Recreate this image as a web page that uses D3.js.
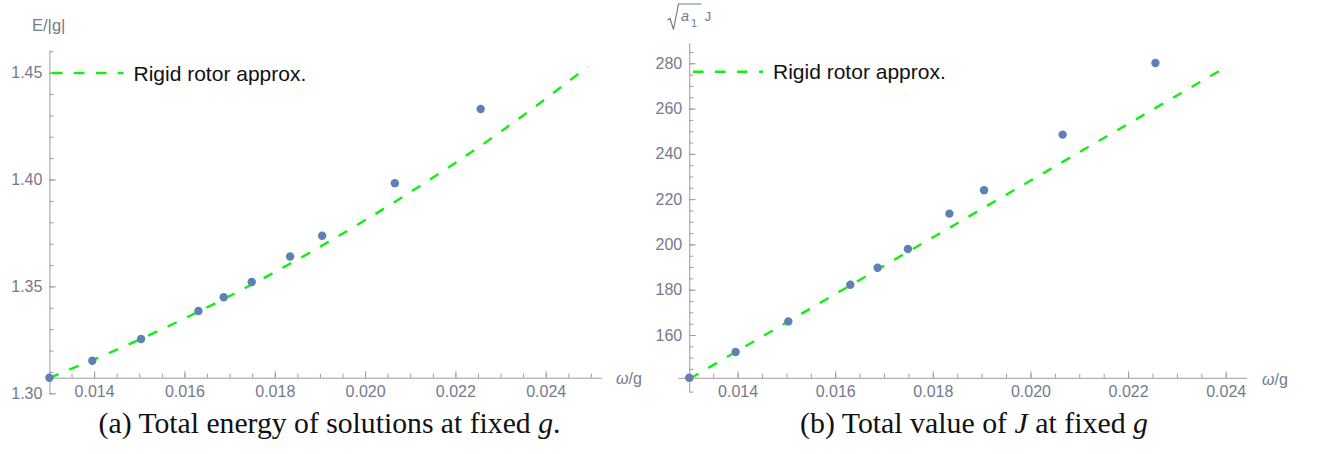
<!DOCTYPE html>
<html><head><meta charset="utf-8">
<script src="https://cdn.jsdelivr.net/npm/d3@7"></script>
<style>body{margin:0;background:#fff} svg{display:block}</style>
</head><body><svg id="c" width="1322" height="454"></svg>
<script>
// ---- data ----
const omega   = [0.01301, 0.01396, 0.01504, 0.01631, 0.01687, 0.01749, 0.01834, 0.01905, 0.02066, 0.02256];
const energy  = [1.3073, 1.3152, 1.3254, 1.3385, 1.3449, 1.3521, 1.3640, 1.3737, 1.3983, 1.4330];
const jValue  = [141.1, 152.5, 166.0, 182.2, 189.7, 198.0, 213.6, 223.9, 248.5, 280.1];
const rotorOmegaA = [0.01301, 0.0150, 0.0170, 0.0190, 0.0210, 0.0230, 0.02493];
const rotorEnergy = [1.3072, 1.3251, 1.3455, 1.3685, 1.3941, 1.4223, 1.4528];
const rotorOmegaB = [0.01302, 0.02405];
const rotorJ      = [140.7, 278.9];
const xTickLabels  = [0.014, 0.016, 0.018, 0.020, 0.022, 0.024];
const yTickLabelsA = [1.30, 1.35, 1.40, 1.45];
const yTickLabelsB = [160, 180, 200, 220, 240, 260, 280];
const legendLabel = "Rigid rotor approx.";
const captionA = ["(a) Total energy of solutions at fixed ", "g", "."];
const captionB = ["(b) Total value of ", "J", " at fixed ", "g"];

const svg = d3.select("#c");
svg.append("rect").attr("width",1322).attr("height",454).attr("fill","#fff");

const AXIS = "#9c9c9c", LABEL = "#737b8b", DOT = "#5E81B5", GREEN = "#12ee12";
const SANS = "'Liberation Sans', Arial, sans-serif";

function range(a, b, step){ const out=[]; for(let v=a; v<=b+step*1e-6; v+=step) out.push(+v.toFixed(6)); return out; }

function panel(o){
  const g = svg.append("g");
  const x = d3.scaleLinear().domain(o.xDomain).range(o.xRange);
  const y = d3.scaleLinear().domain(o.yDomain).range(o.yRange);
  const xCross = d3.min(omega), yCross = d3.min(o.yVals);

  function style(sel){
    sel.selectAll(".domain").attr("stroke", AXIS).attr("stroke-width",1);
    sel.selectAll(".tick line").attr("stroke", AXIS);
    sel.selectAll("text").attr("fill", LABEL).attr("font-family", SANS).attr("font-size", 16);
  }
  // x axis
  const gxm = g.append("g").attr("transform",`translate(0,${y(yCross)})`)
    .call(d3.axisBottom(x).tickValues(o.xMinor).tickFormat("").tickSizeInner(-4).tickSizeOuter(0));
  gxm.select(".domain").remove(); style(gxm);
  const gx = g.append("g").attr("transform",`translate(0,${y(yCross)})`)
    .call(d3.axisBottom(x).tickValues(xTickLabels).tickFormat(d3.format(".3f")).tickSizeInner(-6.5).tickSizeOuter(0).tickPadding(8));
  style(gx);
  // y axis
  const gym = g.append("g").attr("transform",`translate(${x(xCross)},0)`)
    .call(d3.axisLeft(y).tickValues(o.yMinor).tickFormat("").tickSizeInner(-4).tickSizeOuter(0));
  gym.select(".domain").remove(); style(gym);
  const gy = g.append("g").attr("transform",`translate(${x(xCross)},0)`)
    .call(d3.axisLeft(y).tickValues(o.yTicks).tickFormat(o.yFormat).tickSizeInner(-6.5).tickSizeOuter(0).tickPadding(7));
  style(gy);

  // x axis label
  const xl = g.append("text").attr("x", o.xLabelPos[0]).attr("y", o.xLabelPos[1])
    .attr("font-family", SANS).attr("font-size", 16).attr("fill", LABEL);
  xl.append("tspan").attr("font-style","italic").text("ω");
  xl.append("tspan").text("/g");

  // rigid rotor line
  const line = d3.line().x(d=>x(d[0])).y(d=>y(d[1])).curve(d3.curveMonotoneX);
  g.append("path").datum(d3.zip(o.lineX, o.lineY)).attr("d", line)
    .attr("fill","none").attr("stroke", GREEN).attr("stroke-width", 2.4).attr("stroke-dasharray","10,11.5");

  // points
  g.selectAll("circle.pt").data(d3.zip(omega, o.yVals)).join("circle").attr("class","pt")
    .attr("cx", d=>x(d[0])).attr("cy", d=>y(d[1])).attr("r", 4.2).attr("fill", DOT);

  // legend
  const [lx0, lx1, ly] = o.legend;
  g.append("line").attr("x1", lx0).attr("x2", lx1).attr("y1", ly).attr("y2", ly)
    .attr("stroke", GREEN).attr("stroke-width", 2.4).attr("stroke-dasharray","10.5,11.5");
  g.append("text").attr("x", lx1 + 10).attr("y", ly + 7.5).attr("font-family", SANS)
    .attr("font-size", 21).attr("fill", "#111").text(legendLabel);

  // caption
  const cap = g.append("text").attr("x", o.caption[0]).attr("y", o.caption[1]).attr("text-anchor","middle")
    .attr("font-family", "'Liberation Serif', 'Times New Roman', serif").attr("font-size", 24).attr("fill","#111");
  o.captionParts.forEach((t,i) => cap.append("tspan").attr("font-style", t.length===1 && /[gJ]/.test(t) ? "italic" : null).text(t));
  const w = cap.node().getComputedTextLength();
  cap.attr("font-size", 24 * o.caption[2] / w);
  return g;
}

// panel (a)
const ga = panel({
  xDomain:[0.01295, 0.02524], xRange:[46.7, 601.7],
  yDomain:[1.30, 1.4606], yRange:[393.3, 50],
  yVals: energy, lineX: rotorOmegaA, lineY: rotorEnergy,
  xMinor: range(0.0130, 0.0250, 0.0005), yMinor: range(1.30, 1.46, 0.01),
  yTicks: yTickLabelsA, yFormat: d3.format(".2f"),
  xLabelPos:[616, 384], legend:[52, 123.5, 73],
  caption:[329.5, 433, 462], captionParts: captionA
});
ga.append("text").attr("x", 32).attr("y", 31).attr("font-family", SANS).attr("font-size", 16.5)
  .attr("fill", LABEL).text("E/|g|");

// panel (b)
const gb = panel({
  xDomain:[0.01278, 0.02443], xRange:[678, 1246.7],
  yDomain:[135, 289], yRange:[391.6, 42.9],
  yVals: jValue, lineX: rotorOmegaB, lineY: rotorJ,
  xMinor: range(0.0130, 0.0240, 0.0005), yMinor: range(135, 285, 5),
  yTicks: yTickLabelsB, yFormat: d3.format("d"),
  xLabelPos:[1262, 385], legend:[693, 763, 71.7],
  caption:[974, 433, 348], captionParts: captionB
});
// y label sqrt(a1) J
gb.append("path").attr("d","M667.5,20 L670,18.5 L673.5,29.5 L678.5,4 L701.5,4")
  .attr("fill","none").attr("stroke", LABEL).attr("stroke-width",1.2);
gb.append("text").attr("x", 681).attr("y", 20.7).attr("font-family", SANS).attr("font-size", 14.5)
  .attr("font-style","italic").attr("fill", LABEL).text("a");
gb.append("text").attr("x", 691).attr("y", 26.5).attr("font-family", SANS).attr("font-size", 11)
  .attr("fill", LABEL).text("1");
gb.append("text").attr("x", 704.5).attr("y", 20.7).attr("font-family", SANS).attr("font-size", 13.5)
  .attr("fill", LABEL).text("J");
</script></body></html>
